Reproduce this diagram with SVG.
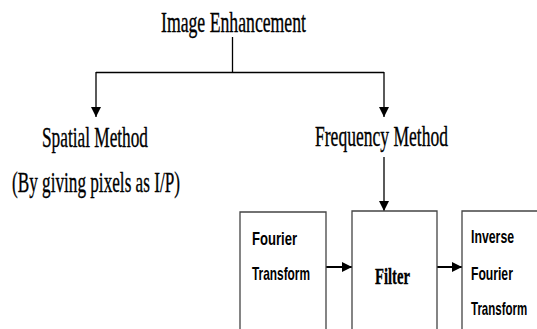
<svg xmlns="http://www.w3.org/2000/svg" width="537" height="329" viewBox="0 0 537 329">
<defs>
<style>
.serif{font-family:"Liberation Serif","Times New Roman",serif;fill:#000;stroke:#000;stroke-width:0.35;}
.big{font-size:29px;}
.box{fill:#fff;stroke:#444;stroke-width:1.3;}
.lbl{font-family:"Liberation Sans",Arial,sans-serif;font-weight:bold;font-size:19px;fill:#000;}
.tree{fill:none;stroke:#000;stroke-width:1.3;}
.flow{fill:none;stroke:#000;stroke-width:2;}
</style>
<marker id="ah" markerUnits="userSpaceOnUse" markerWidth="10" markerHeight="12" viewBox="0 0 10 12" refX="10" refY="6" orient="auto">
<path d="M0,1 L10,6 L0,11 Z" fill="#000"/>
</marker>
</defs>
<rect width="537" height="329" fill="#fff"/>
<g id="connectors">
<line class="tree" x1="232.5" y1="37" x2="232.5" y2="72.5"/>
<line class="tree" x1="96" y1="72.5" x2="384" y2="72.5"/>
<line class="tree" x1="96" y1="72" x2="96" y2="117" marker-end="url(#ah)"/>
<line class="tree" x1="384" y1="72" x2="384" y2="117" marker-end="url(#ah)"/>
<line class="tree" x1="384" y1="157" x2="384" y2="211" marker-end="url(#ah)"/>
<line class="flow" x1="326" y1="267" x2="352" y2="267" marker-end="url(#ah)"/>
<line class="flow" x1="437" y1="267" x2="462" y2="267" marker-end="url(#ah)"/>
</g>
<g id="image-enhancement">
<text class="serif big" x="161" y="32" textLength="145" lengthAdjust="spacingAndGlyphs">Image Enhancement</text>
</g>
<g id="spatial-method">
<text class="serif big" x="42" y="147" textLength="106" lengthAdjust="spacingAndGlyphs">Spatial Method</text>
<text class="serif big" x="12" y="192" textLength="168" lengthAdjust="spacingAndGlyphs">(By giving pixels as I/P)</text>
</g>
<g id="frequency-method">
<text class="serif big" x="315" y="146" textLength="133" lengthAdjust="spacingAndGlyphs">Frequency Method</text>
</g>
<g id="fourier-transform">
<path class="box" d="M240,329 V212 H326 V329"/>
<text class="lbl" x="252" y="245" textLength="45" lengthAdjust="spacingAndGlyphs">Fourier</text>
<text class="lbl" x="252" y="280" textLength="58" lengthAdjust="spacingAndGlyphs">Transform</text>
</g>
<g id="filter">
<path class="box" d="M352,329 V211 H437 V329"/>
<text class="serif" x="375" y="284" font-size="24" font-weight="bold" stroke-width="0" textLength="35" lengthAdjust="spacingAndGlyphs">Filter</text>
</g>
<g id="inverse-fourier-transform">
<path class="box" d="M537,211 H462 V329"/>
<text class="lbl" transform="translate(471,243) scale(0.647,1)">Inverse</text>
<text class="lbl" transform="translate(471,280) scale(0.64,1)">Fourier</text>
<text class="lbl" transform="translate(471,315) scale(0.606,1)">Transform</text>
</g>
</svg>
